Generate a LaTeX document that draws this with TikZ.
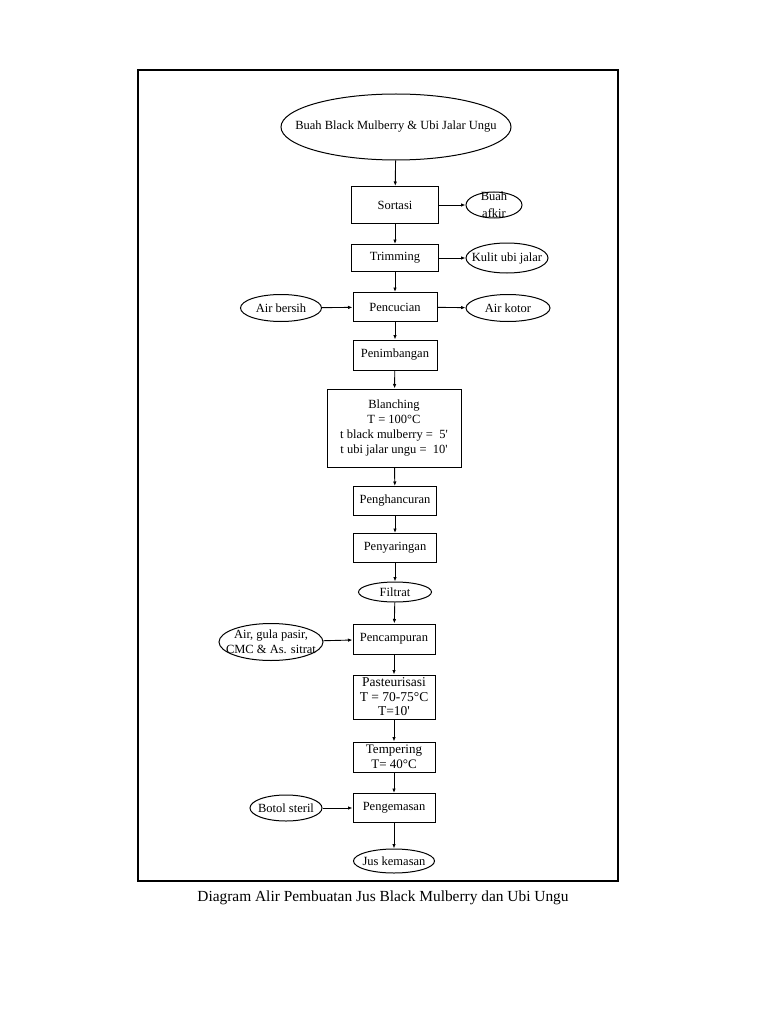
\documentclass[tikz,border=0pt]{standalone}
\usepackage{fontspec}
\setmainfont{Liberation Serif}
\usetikzlibrary{arrows.meta}
\usetikzlibrary{shapes.geometric}

\begin{document}
\begin{tikzpicture}[x=1pt, y=-1pt,
    proc/.style={draw, rectangle, line width=1pt, inner sep=0pt, align=center, font=\fontsize{12.5}{15}\selectfont},
    term/.style={draw, ellipse, line width=1pt, inner sep=-50pt, align=center, font=\fontsize{12.5}{15}\selectfont},
    flow/.style={line width=0.9pt, -{Latex[length=4.5pt,width=3.5pt]}}]
    \useasboundingbox (0,0) rectangle (768,1024);
    \draw[line width=2.4pt] (138,70) rectangle (618,881);

    \node[term, minimum width=230pt, minimum height=66pt] (buah) at (396,127) {Buah Black Mulberry \& Ubi Jalar Ungu};
    \node[proc, minimum width=87pt, minimum height=37pt] (sortasi) at (395,205) {Sortasi};
    \node[term, minimum width=56pt, minimum height=26pt, font=\fontsize{12.5}{17}\selectfont] (afkir) at (494,205) {Buah\\afkir};
    \node[proc, minimum width=87pt, minimum height=27pt] (trimming) at (395,258) {Trimming};
    \node[term, minimum width=82pt, minimum height=30pt] (kulit) at (507,258) {Kulit ubi jalar};
    \node[proc, minimum width=84pt, minimum height=29pt] (pencucian) at (395,307) {Pencucian};
    \node[term, minimum width=81pt, minimum height=27pt] (airbersih) at (281,308) {Air bersih};
    \node[term, minimum width=84pt, minimum height=27pt] (airkotor) at (508,308) {Air kotor};
    \node[proc, minimum width=84pt, minimum height=30pt] (penimbangan) at (395,355) {Penimbangan};
    \node[proc, minimum width=134pt, minimum height=78pt] (blanching) at (394,428) {Blanching\\T = 100°C\\t black mulberry = ~5\textquotesingle\\t ubi jalar ungu = ~10\textquotesingle};
    \node[proc, minimum width=83pt, minimum height=29pt] (penghancuran) at (395,501) {Penghancuran};
    \node[proc, minimum width=83pt, minimum height=29pt] (penyaringan) at (395,548) {Penyaringan};
    \node[term, minimum width=73pt, minimum height=20pt] (filtrat) at (395,592) {Filtrat};
    \node[proc, minimum width=82pt, minimum height=30pt] (pencampuran) at (394,639) {Pencampuran};
    \node[term, minimum width=104pt, minimum height=37pt] (airgula) at (271,642) {Air, gula pasir,\\CMC \& As. sitrat};
    \node[proc, minimum width=82pt, minimum height=44pt, font=\fontsize{13.5}{14.5}\selectfont] (pasteurisasi) at (394,697) {Pasteurisasi\\T = 70-75°C\\T=10\textquotesingle};
    \node[proc, minimum width=82pt, minimum height=30pt, font=\fontsize{13}{14.5}\selectfont] (tempering) at (394,757) {Tempering\\T= 40°C};
    \node[proc, minimum width=82pt, minimum height=29pt] (pengemasan) at (394,808) {Pengemasan};
    \node[term, minimum width=72pt, minimum height=26pt] (botol) at (286,808) {Botol steril};
    \node[term, minimum width=81pt, minimum height=24pt] (jus) at (394,861) {Jus kemasan};

    \node[font=\fontsize{15.4}{18}\selectfont] (caption) at (383,898) {Diagram Alir Pembuatan Jus Black Mulberry dan Ubi Ungu};

    \draw[flow] (buah) -- (sortasi);
    \draw[flow] (sortasi) -- (afkir);
    \draw[flow] (sortasi) -- (trimming);
    \draw[flow] (trimming) -- (kulit);
    \draw[flow] (trimming) -- (pencucian);
    \draw[flow] (airbersih) -- (pencucian);
    \draw[flow] (pencucian) -- (airkotor);
    \draw[flow] (pencucian) -- (penimbangan);
    \draw[flow] (penimbangan) -- (blanching);
    \draw[flow] (blanching) -- (penghancuran);
    \draw[flow] (penghancuran) -- (penyaringan);
    \draw[flow] (penyaringan) -- (filtrat);
    \draw[flow] (filtrat) -- (pencampuran);
    \draw[flow] (airgula) -- (pencampuran);
    \draw[flow] (pencampuran) -- (pasteurisasi);
    \draw[flow] (pasteurisasi) -- (tempering);
    \draw[flow] (tempering) -- (pengemasan);
    \draw[flow] (botol) -- (pengemasan);
    \draw[flow] (pengemasan) -- (jus);
\end{tikzpicture}
\end{document}
